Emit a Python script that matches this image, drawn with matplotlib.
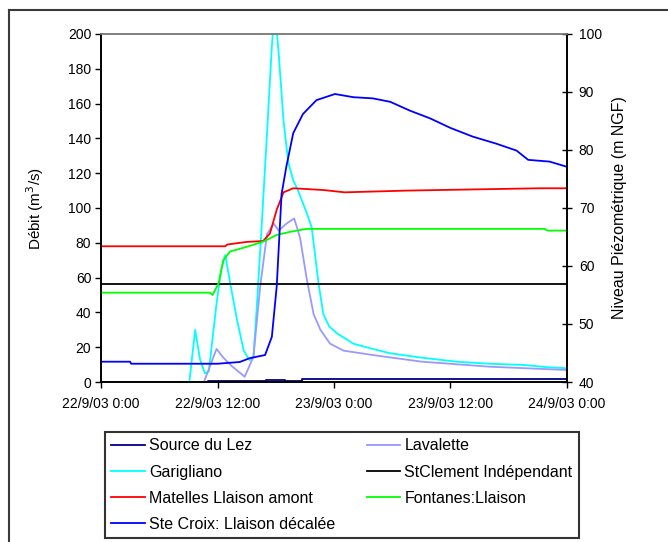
import matplotlib
matplotlib.use('Agg')
import matplotlib.pyplot as plt
from matplotlib.lines import Line2D

plt.rcParams['font.family'] = ['Liberation Sans', 'DejaVu Sans']

# hours since 22/9/03 0:00
x_ticks = [0, 12, 24, 36, 48]
x_labels = ['22/9/03 0:00', '22/9/03 12:00', '23/9/03 0:00', '23/9/03 12:00', '24/9/03 0:00']

# discharge series (left axis, m3/s)
lez_t = [0, 11.0, 11.0, 17.0, 17.0, 19.0, 19.0, 20.7, 20.7, 48]
lez_v = [0, 0, 0.5, 0.5, 1.2, 1.2, 0.6, 0.6, 2.0, 2.0]

lav_t = [0, 10.6, 11.9, 12.6, 13.5, 14.8, 15.7, 16.4, 17.1, 17.8, 18.3, 19.1, 19.9,
         20.5, 21.2, 21.9, 22.6, 23.6, 25, 28, 33, 40, 48]
lav_v = [0, 0, 19, 14, 9, 3, 14.5, 55, 85, 91, 87, 91, 94,
         83, 59, 39, 30, 22, 18, 15.5, 11.7, 8.8, 6.9]

gar_t = [0, 9.1, 9.7, 10.2, 10.7, 11.1, 11.9, 12.4, 12.8, 13.3, 14.0, 14.7, 15.3, 15.7,
         16.0, 16.5, 17.1, 17.6, 17.9, 18.3, 18.8, 19.3, 19.8, 20.3, 21.2, 21.7, 22.4,
         22.9, 23.5, 24.3, 26, 28, 29.8, 33, 36.6, 40, 43.5, 46, 48]
gar_v = [0, 0, 30, 13, 5, 6, 45, 65, 73, 57, 36, 18, 12.6, 14,
         39, 85, 143, 193, 215, 189, 150, 126, 116, 110, 97, 89, 57,
         39, 32, 28, 22, 19, 16.5, 14, 11.7, 10.5, 9.8, 8.5, 7.9]

# piezometric levels (right axis, m NGF)
stc_t = [0, 48]
stc_v = [56.9, 56.9]

mat_t = [0, 12.8, 13.0, 15.0, 16.7, 17.4, 18.1, 18.8, 19.8, 22.9, 25.1, 31.5, 45.2, 48]
mat_v = [63.4, 63.4, 63.7, 64.15, 64.3, 65.6, 69.7, 72.7, 73.4, 73.1, 72.7, 73.0, 73.4, 73.4]

fon_t = [0, 11.2, 11.5, 12.1, 12.6, 13.3, 15.0, 16.7, 18.1, 19.5, 21.2, 45.7, 46.0, 48]
fon_v = [55.4, 55.4, 55.0, 57.0, 61.0, 62.5, 63.3, 64.2, 65.35, 65.9, 66.4, 66.4, 66.1, 66.1]

scx_t = [0, 3.0, 3.1, 12.0, 14.3, 15.3, 16.9, 17.6, 18.1, 18.6, 19.1, 19.8, 20.8, 22.2,
         24.1, 26.0, 28.0, 29.8, 31.8, 33.9, 36.0, 38.3, 40.7, 42.8, 44.0, 46.2, 48]
scx_v = [43.5, 43.5, 43.15, 43.15, 43.45, 44.1, 44.65, 47.8, 56.5, 72.4, 77.2, 82.9, 86.2, 88.6,
         89.65, 89.1, 88.9, 88.3, 86.8, 85.45, 83.8, 82.3, 81.1, 79.9, 78.3, 78.0, 77.1]

fig = plt.figure(figsize=(6.68, 5.42), dpi=100)
ax = fig.add_axes([0.1512, 0.2952, 0.6976, 0.6421])
ax2 = ax.twinx()

lw = 1.3
h_lez, = ax.plot(lez_t, lez_v, color='#000080', lw=lw, label='Source du Lez')
h_gar, = ax.plot(gar_t, gar_v, color='#00FFFF', lw=lw, label='Garigliano')
h_lav, = ax.plot(lav_t, lav_v, color='#9999FF', lw=lw, label='Lavalette')
h_stc, = ax2.plot(stc_t, stc_v, color='black', lw=lw, label='StClement Indépendant')
h_mat, = ax2.plot(mat_t, mat_v, color='#FF0000', lw=lw, label='Matelles Llaison amont')
h_fon, = ax2.plot(fon_t, fon_v, color='#00FF00', lw=lw, label='Fontanes:Llaison')
h_scx, = ax2.plot(scx_t, scx_v, color='#0000FF', lw=lw, label='Ste Croix: Llaison décalée')

ax.set_xlim(0, 48)
ax.set_ylim(0, 200)
ax2.set_ylim(40, 100)
ax.set_xticks(x_ticks)
ax.set_xticklabels(x_labels)
ax.set_yticks(range(0, 201, 20))
ax2.set_yticks(range(40, 101, 10))

ax.tick_params(axis='both', labelsize=10, length=4, width=1, direction='out', pad=3)
ax.tick_params(axis='x', pad=7)
ax2.tick_params(axis='y', labelsize=10, length=7, width=1, direction='inout', pad=5)

for a in (ax, ax2):
    a.spines['top'].set_color('#808080')
    a.spines['top'].set_linewidth(1.2)
    for s in ('left', 'right', 'bottom'):
        a.spines[s].set_color('black')
        a.spines[s].set_linewidth(1.2)

ax.set_ylabel('Débit (m$^3$/s)', fontsize=11)
ax2.set_ylabel('Niveau Piézométrique (m NGF)', fontsize=11.5)
ax.yaxis.set_label_coords(-0.118, 0.5)
ax2.yaxis.set_label_coords(1.097, 0.5)

handles = [h_lez, h_gar, h_mat, h_scx, h_lav, h_stc, h_fon]
leg = fig.legend(handles=handles, labels=[h.get_label() for h in handles], ncol=2,
                 loc='upper left', bbox_to_anchor=(105 / 668, 1 - 432 / 542, 474 / 668, 0),
                 mode='expand', fontsize=11.5, frameon=True, fancybox=False,
                 handlelength=2.1, handletextpad=0.25, labelspacing=0.7,
                 borderpad=0.4, borderaxespad=0)
leg.get_frame().set_edgecolor('black')
leg.get_frame().set_linewidth(1.5)

# outer chart border
fig.add_artist(Line2D([9 / 668, 9 / 668], [0, 1 - 10 / 542], color='#3a3a3a', lw=1.5,
                      transform=fig.transFigure))
fig.add_artist(Line2D([9 / 668, 1], [1 - 10 / 542, 1 - 10 / 542], color='#3a3a3a', lw=1.5,
                      transform=fig.transFigure))

fig.savefig('out.png', dpi=100)
